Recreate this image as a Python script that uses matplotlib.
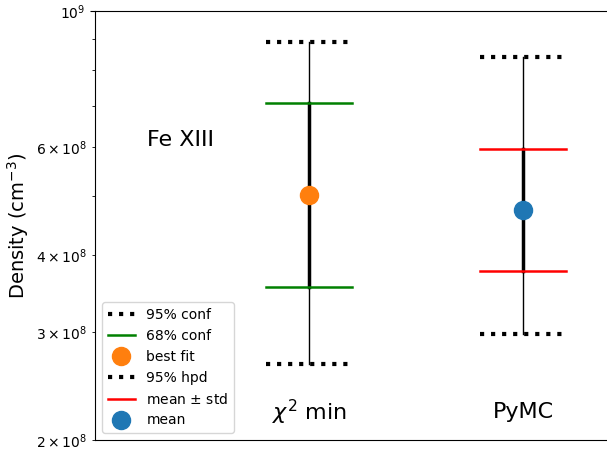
import numpy as np
import matplotlib
matplotlib.use("Agg")
import matplotlib.pyplot as plt

# metody a jejich pozice na ose x
methods = ["$\\chi^2$ min", "PyMC"]
xpos = [1, 2]

# chi2 min
chi_conf95 = [2.66e8, 8.90e8]
chi_conf68 = [3.55e8, 7.08e8]
chi_best = 5.01e8

# PyMC
mc_hpd95 = [2.98e8, 8.42e8]
mc_std = [3.77e8, 5.96e8]
mc_mean = 4.74e8

ion_name = "Fe XIII"

fig = plt.figure(figsize=(6.07, 4.5), dpi=100)
ax = fig.add_axes([95 / 607, 10 / 450, 535 / 607, 429 / 450])

w = 0.2
x1, x2 = xpos

# chi2 min
ax.plot([x1, x1], chi_conf95, color='black', lw=1)
ax.plot([x1, x1], chi_conf68, color='black', lw=2.5)
for v in chi_conf95:
    ax.plot([x1 - w, x1 + w], [v, v], color='black', ls=':', lw=3,
            label="95% conf" if v == chi_conf95[0] else None)
for v in chi_conf68:
    ax.plot([x1 - w, x1 + w], [v, v], color='green', lw=1.8,
            label="68% conf" if v == chi_conf68[0] else None)
ax.plot(x1, chi_best, 'o', color='tab:orange', markersize=13, label="best fit")

# PyMC
ax.plot([x2, x2], mc_hpd95, color='black', lw=1)
ax.plot([x2, x2], mc_std, color='black', lw=2.5)
for v in mc_hpd95:
    ax.plot([x2 - w, x2 + w], [v, v], color='black', ls=':', lw=3,
            label="95% hpd" if v == mc_hpd95[0] else None)
for v in mc_std:
    ax.plot([x2 - w, x2 + w], [v, v], color='red', lw=1.8,
            label="mean $\\pm$ std" if v == mc_std[0] else None)
ax.plot(x2, mc_mean, 'o', color='tab:blue', markersize=13, label="mean")

ax.set_yscale("log")
ax.set_ylim(2e8, 1e9)
ax.set_xlim(0, 2.5)
ax.set_xticks([])
ax.spines['right'].set_visible(False)

for x, m in zip(xpos, methods):
    ax.text(x, 2.22e8, m, ha="center", va="center", fontsize=16)
ax.text(0.40, 6.17e8, ion_name, ha="center", va="center", fontsize=16)

ax.set_ylabel("Density (cm$^{-3}$)", fontsize=14)
ax.legend(loc="lower left")

fig.savefig("out.png", dpi=100)
